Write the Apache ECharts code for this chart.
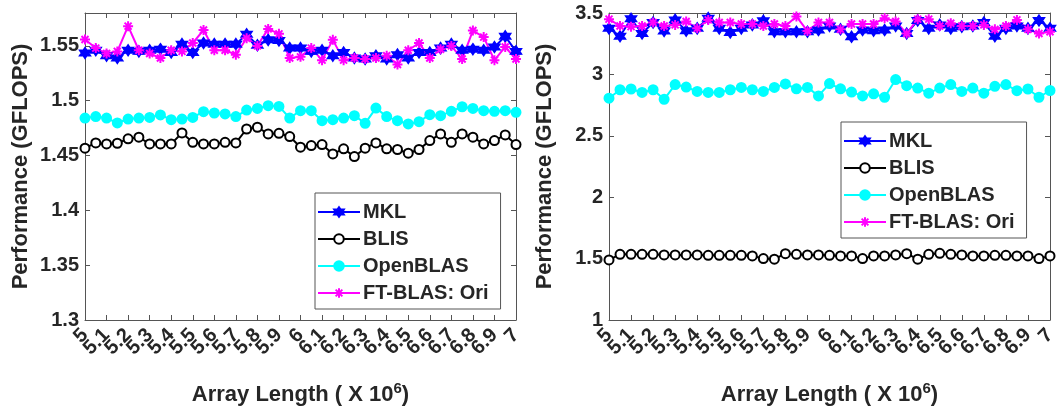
<!DOCTYPE html>
<html>
<head>
<meta charset="utf-8">
<script src="https://cdn.jsdelivr.net/npm/echarts@6/dist/echarts.min.js"></script>
<style>
body { margin: 0; background: #fff; }
#chart { width: 1064px; height: 414px; }
</style>
</head>
<body>
<div id="chart"></div>
<script>
// array length (x 10^6), one sample every 0.05
var arrayLength = [5, 5.05, 5.1, 5.15, 5.2, 5.25, 5.3, 5.35, 5.4, 5.45, 5.5, 5.55, 5.6, 5.65, 5.7, 5.75, 5.8, 5.85, 5.9, 5.95,
	6, 6.05, 6.1, 6.15, 6.2, 6.25, 6.3, 6.35, 6.4, 6.45, 6.5, 6.55, 6.6, 6.65, 6.7, 6.75, 6.8, 6.85, 6.9, 6.95, 7];

var seriesNames = ["MKL", "BLIS", "OpenBLAS", "FT-BLAS: Ori"];

// left panel (GFLOPS)
var leftMKL = [1.5435, 1.546, 1.541, 1.539, 1.546, 1.545, 1.546, 1.547, 1.544, 1.5516, 1.544, 1.5526, 1.5516, 1.5516, 1.5516, 1.5606, 1.5506, 1.5555, 1.555, 1.548,
	1.548, 1.545, 1.546, 1.541, 1.544, 1.539, 1.538, 1.541, 1.538, 1.542, 1.539, 1.544, 1.544, 1.548, 1.5516, 1.546, 1.547, 1.546, 1.549, 1.5587, 1.545];
var leftBLIS = [1.4567, 1.4615, 1.4606, 1.4612, 1.4652, 1.4667, 1.4606, 1.4606, 1.4606, 1.4706, 1.4621, 1.4606, 1.4606, 1.4621, 1.4615, 1.4742, 1.4758, 1.4697, 1.4703, 1.4673,
	1.4576, 1.4591, 1.46, 1.4515, 1.4561, 1.4491, 1.4567, 1.4615, 1.4561, 1.4555, 1.4521, 1.4555, 1.4636, 1.4697, 1.4621, 1.4697, 1.4667, 1.4606, 1.4636, 1.4688, 1.46];
var leftOpenBLAS = [1.4842, 1.4855, 1.4842, 1.4797, 1.4833, 1.4842, 1.4848, 1.487, 1.4827, 1.4833, 1.4848, 1.49, 1.4888, 1.4879, 1.4855, 1.4915, 1.493, 1.4955, 1.4948, 1.4842,
	1.4909, 1.4909, 1.4818, 1.4827, 1.4842, 1.4864, 1.4794, 1.4933, 1.4855, 1.4818, 1.4788, 1.4809, 1.4873, 1.4864, 1.4903, 1.4945, 1.493, 1.4909, 1.4903, 1.4909, 1.4894];
var leftFT = [1.5558, 1.548, 1.543, 1.545, 1.568, 1.546, 1.543, 1.539, 1.546, 1.545, 1.5526, 1.5645, 1.546, 1.546, 1.542, 1.557, 1.55, 1.5655, 1.561, 1.539,
	1.54, 1.548, 1.537, 1.5555, 1.537, 1.539, 1.538, 1.539, 1.541, 1.533, 1.546, 1.5526, 1.539, 1.547, 1.55, 1.538, 1.564, 1.558, 1.537, 1.549, 1.538];

// right panel (GFLOPS)
var rightMKL = [3.375, 3.311, 3.453, 3.333, 3.422, 3.353, 3.444, 3.356, 3.375, 3.458, 3.375, 3.342, 3.375, 3.403, 3.436, 3.347, 3.347, 3.347, 3.347, 3.361,
	3.394, 3.367, 3.306, 3.361, 3.356, 3.361, 3.394, 3.333, 3.439, 3.375, 3.403, 3.375, 3.389, 3.394, 3.422, 3.311, 3.375, 3.394, 3.375, 3.439, 3.375];
var rightBLIS = [1.489, 1.535, 1.535, 1.535, 1.535, 1.53, 1.53, 1.53, 1.53, 1.527, 1.527, 1.527, 1.527, 1.522, 1.5, 1.495, 1.54, 1.535, 1.53, 1.53,
	1.527, 1.522, 1.522, 1.5, 1.522, 1.522, 1.53, 1.54, 1.495, 1.535, 1.543, 1.535, 1.53, 1.522, 1.522, 1.527, 1.527, 1.522, 1.522, 1.5, 1.522];
var rightOpenBLAS = [2.806, 2.875, 2.881, 2.853, 2.875, 2.797, 2.917, 2.897, 2.861, 2.853, 2.853, 2.875, 2.894, 2.875, 2.861, 2.894, 2.922, 2.883, 2.894, 2.825,
	2.925, 2.883, 2.856, 2.825, 2.842, 2.814, 2.958, 2.908, 2.889, 2.847, 2.889, 2.917, 2.861, 2.889, 2.847, 2.903, 2.917, 2.867, 2.881, 2.814, 2.869];
var rightFT = [3.45, 3.394, 3.389, 3.394, 3.422, 3.394, 3.403, 3.431, 3.375, 3.444, 3.422, 3.422, 3.411, 3.411, 3.394, 3.411, 3.394, 3.472, 3.353, 3.422,
	3.422, 3.367, 3.411, 3.411, 3.411, 3.458, 3.431, 3.333, 3.45, 3.45, 3.394, 3.417, 3.394, 3.394, 3.403, 3.367, 3.394, 3.444, 3.367, 3.333, 3.347];

var textColor = "#262626";
var axisColor = "#555";
var font = "'Liberation Sans', Arial, sans-serif";

var hexagram = "path://M10,0L12.9,4.98L18.66,5L15.8,10L18.66,15L12.9,15.02L10,20L7.1,15.02L1.34,15L4.2,10L1.34,5L7.1,4.98Z";
var asterisk = "path://M0,10L20,10M10,0L10,20M3,3L17,17M17,3L3,17";

var styles = [
	{ color: "#0000ff", symbol: hexagram, symbolSize: 10, fill: "#0000ff" },
	{ color: "#000000", symbol: "circle", symbolSize: 9, fill: "#ffffff" },
	{ color: "#00ffff", symbol: "circle", symbolSize: 9, fill: "#00ffff" },
	{ color: "#ff00ff", symbol: asterisk, symbolSize: 10, fill: "none" }
];

function pair(ys) {
	var out = [];
	for (var i = 0; i < arrayLength.length; i++) {
		out.push([arrayLength[i], ys[i]]);
	}
	return out;
}

function makeSeries(idx, values, gridIdx) {
	var st = styles[idx];
	return {
		name: seriesNames[idx],
		type: "line",
		xAxisIndex: gridIdx * 3,
		yAxisIndex: gridIdx * 2,
		data: pair(values),
		symbol: st.symbol,
		symbolSize: st.symbolSize,
		showSymbol: true,
		showAllSymbol: true,
		animation: false,
		lineStyle: { color: st.color, width: 2 },
		itemStyle: { color: st.fill, borderColor: st.color, borderWidth: 2 },
		emphasis: { disabled: true }
	};
}

var xLabelStyle = {
	rotate: 45,
	margin: 12,
	color: textColor,
	fontFamily: font,
	fontWeight: "bold",
	fontSize: 20
};

// kind: "main" = bottom axis with name, "top" = box ticks, "first" = only the label at 5
// (echarts drops 5.1 when 5 is forced on, so 5 gets its own axis)
function xAxisFor(gridIdx, kind) {
	var label = echarts.util.extend({}, xLabelStyle);
	label.show = kind != "top";
	if (kind == "main") {
		label.showMinLabel = false;
		label.showMaxLabel = true;
		label.formatter = function (v) { return String(+v.toFixed(1)); };
	} else if (kind == "first") {
		label.showMinLabel = true;
		label.showMaxLabel = false;
		label.formatter = function (v) { return Math.abs(v - 5) < 1e-6 ? "5" : ""; };
	}
	return {
		type: "value",
		gridIndex: gridIdx,
		position: kind == "top" ? "top" : "bottom",
		min: 5,
		max: 7,
		interval: 0.1,
		splitLine: { show: false },
		axisLine: { show: kind != "first", onZero: false, lineStyle: { color: axisColor, width: 1 } },
		axisTick: { show: kind != "first", inside: true, length: 5, lineStyle: { color: axisColor } },
		axisLabel: label,
		name: kind == "main" ? "Array Length ( X 10{sup|6})" : "",
		nameLocation: "middle",
		nameGap: 61,
		nameTextStyle: {
			color: textColor,
			fontFamily: font,
			fontWeight: "bold",
			fontSize: 22,
			rich: {
				sup: { fontSize: 15, fontWeight: "bold", fontFamily: font, color: textColor, verticalAlign: "bottom", padding: [0, 0, 12, 0] }
			}
		}
	};
}

function yAxisFor(gridIdx, right, min, max, interval, digits) {
	return {
		type: "value",
		gridIndex: gridIdx,
		position: right ? "right" : "left",
		min: min,
		max: max,
		interval: interval,
		splitLine: { show: false },
		axisLine: { show: true, onZero: false, lineStyle: { color: axisColor, width: 1 } },
		axisTick: { show: true, inside: true, length: 5, lineStyle: { color: axisColor } },
		axisLabel: {
			show: !right,
			showMaxLabel: max == 3.5,
			margin: 6,
			color: textColor,
			fontFamily: font,
			fontWeight: "bold",
			fontSize: 20,
			formatter: function (v) { return String(+v.toFixed(digits)); }
		},
		name: right ? "" : "Performance (GFLOPS)",
		nameLocation: "middle",
		nameGap: 53,
		nameTextStyle: { color: textColor, fontFamily: font, fontWeight: "bold", fontSize: 22 }
	};
}

function legendAt(left, top) {
	return {
		show: true,
		orient: "vertical",
		left: left,
		top: top,
		data: seriesNames,
		itemWidth: 42,
		itemHeight: 12,
		itemGap: 7,
		padding: [9, 12, 6, 2],
		borderColor: axisColor,
		borderWidth: 1,
		backgroundColor: "#fff",
		selectedMode: false,
		textStyle: { color: textColor, fontFamily: font, fontWeight: "bold", fontSize: 20, lineHeight: 20, padding: [0, 0, 0, -2] }
	};
}

var chart = echarts.init(document.getElementById("chart"), null, { renderer: "canvas" });

var options = {
	backgroundColor: "#fff",
	animation: false,
	grid: [
		{ left: 85, right: 548, top: 13, bottom: 94, outerBoundsMode: "none" },
		{ left: 609, right: 14, top: 13, bottom: 94, outerBoundsMode: "none" }
	],
	xAxis: [
		xAxisFor(0, "main"), xAxisFor(0, "top"), xAxisFor(0, "first"),
		xAxisFor(1, "main"), xAxisFor(1, "top"), xAxisFor(1, "first")
	],
	yAxis: [
		yAxisFor(0, false, 1.3, 1.58, 0.05, 2), yAxisFor(0, true, 1.3, 1.58, 0.05, 2),
		yAxisFor(1, false, 1, 3.5, 0.5, 1), yAxisFor(1, true, 1, 3.5, 0.5, 1)
	],
	legend: [legendAt(315, 193), legendAt(841, 122)],
	series: [
		makeSeries(0, leftMKL, 0), makeSeries(1, leftBLIS, 0), makeSeries(2, leftOpenBLAS, 0), makeSeries(3, leftFT, 0),
		makeSeries(0, rightMKL, 1), makeSeries(1, rightBLIS, 1), makeSeries(2, rightOpenBLAS, 1), makeSeries(3, rightFT, 1)
	]
};

chart.setOption(options);
</script>
</body>
</html>
